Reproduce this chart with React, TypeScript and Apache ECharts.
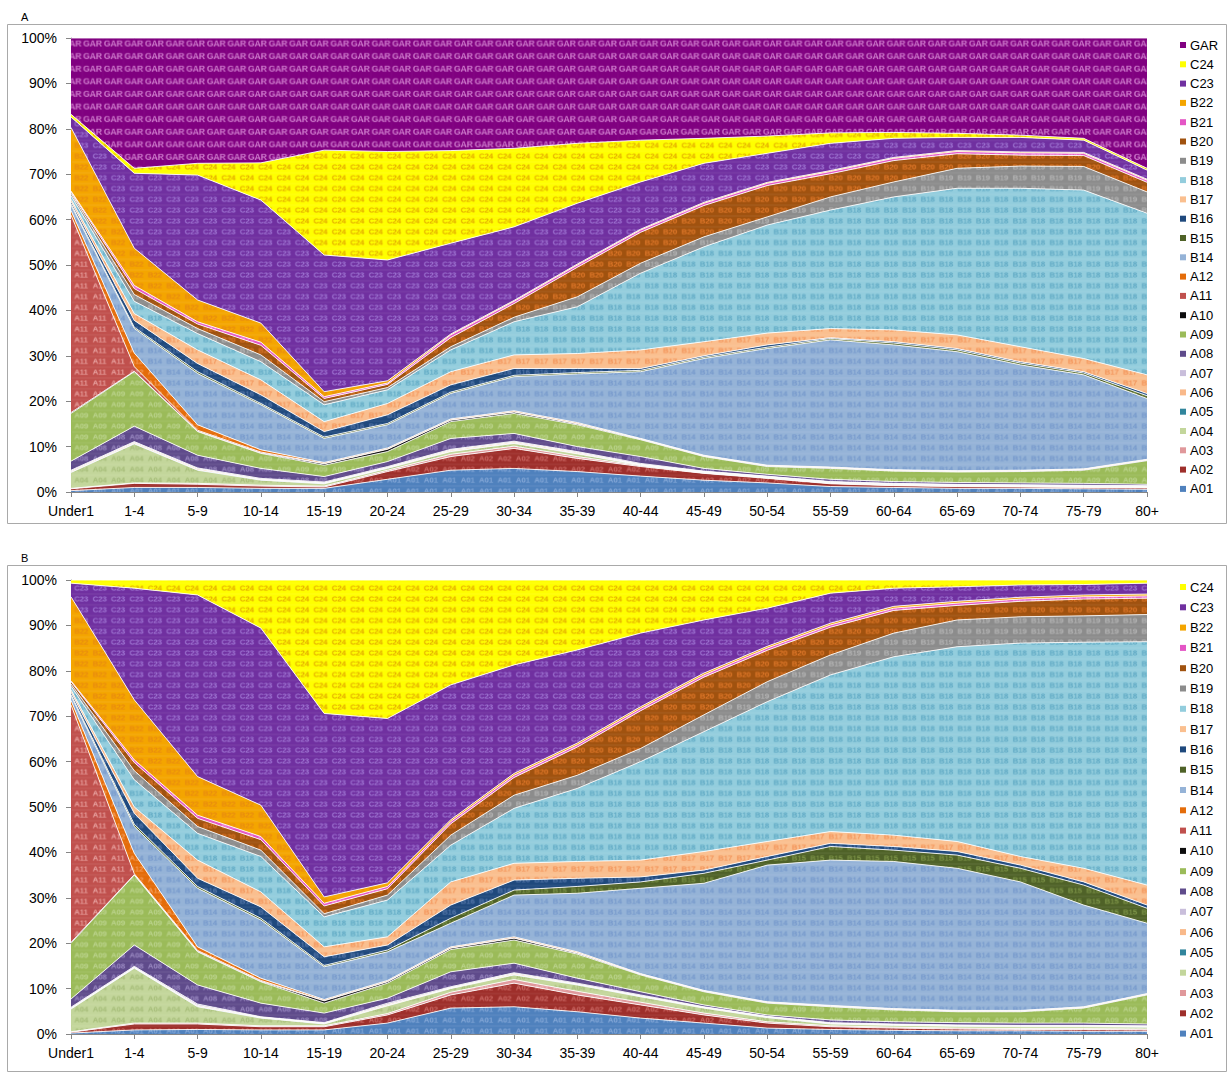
import React, { useEffect, useRef } from "react";
import * as echarts from "echarts";

const FONT = 'Arial, "Liberation Sans", sans-serif';

const categories = ["Under1", "1-4", "5-9", "10-14", "15-19", "20-24", "25-29", "30-34", "35-39", "40-44", "45-49", "50-54", "55-59", "60-64", "65-69", "70-74", "75-79", "80+"];
const yTickStep = 10;

// ---------- Panel A (share, %) ----------
const a_A01 = [0.3, 1.0, 1.0, 0.8, 0.8, 2.8, 4.8, 5.2, 4.5, 3.5, 2.6, 2.0, 1.2, 1.0, 0.8, 0.8, 0.7, 0.6];
const a_A02 = [0.4, 0.9, 0.7, 0.5, 0.3, 1.7, 3.0, 4.4, 2.9, 2.1, 1.5, 1.0, 0.6, 0.4, 0.4, 0.3, 0.3, 0.3];
const a_A03 = [0.1, 0.1, 0.2, 0.2, 0.2, 0.3, 0.5, 0.5, 0.4, 0.2, 0.1, 0.1, 0.1, 0.1, 0.1, 0.1, 0.1, 0.1];
const a_A04 = [3.5, 8.6, 2.9, 1.1, 0.5, 0.4, 0.6, 0.6, 0.6, 0.1, 0.1, 0.1, 0.1, 0.1, 0.1, 0.1, 0.1, 0.1];
const a_A05 = [0.1, 0.1, 0.1, 0.1, 0.1, 0.1, 0.1, 0.1, 0.1, 0.1, 0.1, 0.1, 0.1, 0.1, 0.1, 0.1, 0.1, 0.1];
const a_A06 = [0.2, 0.2, 0.2, 0.1, 0.1, 0.1, 0.2, 0.2, 0.2, 0.1, 0.1, 0.1, 0.1, 0.1, 0.1, 0.1, 0.1, 0.1];
const a_A07 = [0.2, 0.2, 0.2, 0.2, 0.2, 0.2, 0.2, 0.2, 0.2, 0.2, 0.1, 0.1, 0.1, 0.1, 0.1, 0.1, 0.1, 0.1];
const a_A08 = [2.0, 3.4, 2.8, 2.2, 1.2, 1.1, 2.4, 1.7, 1.1, 1.5, 0.6, 0.4, 0.5, 0.4, 0.4, 0.4, 0.4, 0.3];
const a_A09 = [10.5, 12.0, 5.2, 3.3, 2.5, 2.2, 3.7, 4.4, 4.8, 3.7, 2.6, 1.7, 2.4, 2.3, 2.3, 2.5, 2.9, 5.2];
const a_A10 = [0.2, 0.1, 0.1, 0.1, 0.3, 0.5, 0.3, 0.3, 0.2, 0.1, 0.1, 0.1, 0.1, 0.1, 0.1, 0.1, 0.1, 0.1];
const a_A11 = [43.5, 1.0, 0.2, 0.2, 0.1, 0.1, 0.1, 0.1, 0.1, 0.1, 0.1, 0.1, 0.1, 0.1, 0.1, 0.1, 0.1, 0.1];
const a_A12 = [1.0, 3.0, 1.2, 0.5, 0.2, 0.2, 0.2, 0.2, 0.2, 0.1, 0.1, 0.1, 0.1, 0.1, 0.1, 0.1, 0.1, 0.1];
const a_B14 = [1.2, 5.4, 11.3, 9.9, 5.3, 5.1, 5.6, 7.5, 10.7, 14.7, 21.3, 25.7, 28.0, 27.5, 26.2, 23.2, 20.7, 13.4];
const a_B15 = [0.3, 0.3, 0.4, 0.3, 0.3, 0.3, 0.3, 0.3, 0.3, 0.3, 0.3, 0.3, 0.3, 0.4, 0.4, 0.4, 0.4, 0.6];
const a_B16 = [0.5, 1.5, 1.8, 1.9, 1.2, 1.9, 1.6, 1.5, 0.9, 0.4, 0.3, 0.5, 0.2, 0.3, 0.3, 0.3, 0.3, 0.5];
const a_B17 = [0.5, 1.5, 3.0, 3.3, 2.2, 2.5, 2.9, 3.0, 3.3, 4.1, 3.1, 2.6, 2.0, 2.6, 3.0, 3.3, 2.9, 4.1];
const a_B18 = [0.8, 2.7, 3.6, 4.0, 3.7, 3.0, 4.8, 7.3, 10.3, 16.9, 20.9, 23.8, 26.1, 29.3, 32.3, 34.9, 37.1, 35.6];
const a_B19 = [0.5, 1.5, 1.1, 1.5, 0.7, 0.5, 0.7, 1.0, 2.2, 2.2, 2.2, 1.8, 2.9, 3.3, 4.4, 4.9, 5.2, 4.7];
const a_B20 = [0.3, 1.3, 1.0, 2.1, 0.7, 0.7, 2.0, 3.0, 6.5, 6.8, 6.9, 6.9, 5.1, 4.7, 3.2, 2.4, 2.4, 2.1];
const a_B21 = [0.2, 0.7, 0.5, 0.7, 0.4, 0.3, 0.6, 0.5, 0.5, 0.5, 0.5, 0.5, 0.5, 0.5, 0.5, 0.5, 0.5, 0.5];
const a_B22 = [14.0, 8.2, 4.8, 4.2, 1.1, 0.5, 0.2, 0.2, 0.2, 0.2, 0.2, 0.2, 0.2, 0.2, 0.2, 0.2, 0.2, 0.2];
const a_C23 = [2.3, 16.5, 27.5, 27.1, 30.1, 26.6, 20.0, 16.2, 13.4, 10.4, 8.6, 6.4, 6.0, 4.2, 2.9, 3.2, 2.7, 2.0];
const a_C24 = [0.6, 1.1, 2.6, 8.2, 23.1, 23.9, 20.4, 17.3, 13.2, 9.2, 5.5, 3.8, 2.3, 1.3, 0.9, 0.5, 0.4, 0.4];
const a_GAR = [16.8, 28.7, 27.6, 27.5, 24.7, 25.0, 24.8, 24.3, 23.2, 22.5, 22.1, 21.6, 20.9, 20.8, 21.0, 21.4, 22.1, 28.7];

// ---------- Panel B (share, %) ----------
const b_A01 = [0.2, 0.9, 1.0, 0.9, 0.9, 2.4, 5.7, 6.0, 4.9, 3.5, 2.4, 1.3, 1.0, 0.8, 0.7, 0.7, 0.6, 0.6];
const b_A02 = [0.2, 1.3, 1.2, 0.7, 0.7, 1.8, 2.9, 5.2, 3.7, 2.9, 1.8, 1.1, 0.6, 0.5, 0.4, 0.3, 0.4, 0.3];
const b_A03 = [0.1, 0.2, 0.2, 0.2, 0.2, 0.3, 0.6, 0.8, 0.8, 0.6, 0.4, 0.3, 0.2, 0.2, 0.2, 0.2, 0.2, 0.2];
const b_A04 = [5.0, 12.1, 3.6, 1.7, 0.4, 1.7, 0.8, 1.0, 1.4, 1.2, 1.1, 0.9, 0.4, 0.4, 0.4, 0.4, 0.4, 0.4];
const b_A05 = [0.1, 0.1, 0.1, 0.1, 0.1, 0.1, 0.1, 0.1, 0.1, 0.1, 0.1, 0.1, 0.1, 0.1, 0.1, 0.1, 0.1, 0.1];
const b_A06 = [0.1, 0.1, 0.2, 0.1, 0.1, 0.2, 0.1, 0.2, 0.1, 0.1, 0.1, 0.1, 0.1, 0.1, 0.1, 0.1, 0.1, 0.1];
const b_A07 = [0.2, 0.2, 0.3, 0.1, 0.1, 0.3, 0.2, 0.2, 0.2, 0.2, 0.1, 0.1, 0.1, 0.1, 0.1, 0.1, 0.1, 0.1];
const b_A08 = [1.8, 4.7, 4.2, 3.0, 2.1, 1.1, 3.3, 2.1, 1.1, 0.7, 0.4, 0.3, 0.6, 0.5, 0.5, 0.5, 0.5, 0.4];
const b_A09 = [12.3, 15.4, 7.3, 4.7, 2.2, 3.3, 4.9, 5.1, 5.3, 3.7, 2.9, 2.6, 2.9, 2.6, 2.4, 2.5, 3.3, 6.4];
const b_A10 = [0.2, 0.1, 0.1, 0.1, 0.5, 0.3, 0.3, 0.4, 0.2, 0.1, 0.1, 0.1, 0.1, 0.1, 0.1, 0.1, 0.1, 0.1];
const b_A11 = [52.3, 0.2, 0.2, 0.2, 0.1, 0.1, 0.1, 0.1, 0.1, 0.1, 0.1, 0.1, 0.1, 0.1, 0.1, 0.1, 0.1, 0.1];
const b_A12 = [1.0, 4.5, 0.8, 0.5, 0.2, 0.2, 0.2, 0.2, 0.2, 0.1, 0.1, 0.1, 0.1, 0.1, 0.1, 0.1, 0.1, 0.1];
const b_B14 = [1.0, 5.9, 12.9, 12.8, 7.2, 6.3, 5.2, 9.2, 12.9, 18.8, 23.6, 30.1, 32.0, 32.4, 31.3, 28.3, 22.4, 15.5];
const b_B15 = [0.3, 0.5, 0.4, 0.4, 0.3, 0.4, 1.1, 1.1, 1.5, 1.4, 2.2, 1.1, 3.0, 2.5, 2.9, 3.0, 4.4, 3.3];
const b_B16 = [0.5, 2.4, 1.8, 2.5, 1.9, 1.1, 2.9, 2.2, 1.8, 1.1, 0.7, 0.8, 0.7, 0.8, 0.8, 0.7, 0.7, 0.7];
const b_B17 = [0.5, 1.4, 4.0, 3.3, 2.2, 1.8, 5.1, 3.7, 3.7, 3.7, 4.1, 3.3, 2.6, 2.5, 2.2, 1.9, 3.0, 4.4];
const b_B18 = [0.8, 6.0, 5.9, 7.8, 6.6, 8.1, 8.1, 12.1, 16.1, 21.7, 26.4, 30.8, 34.5, 39.3, 42.9, 47.0, 49.8, 53.6];
const b_B19 = [0.5, 2.0, 1.5, 1.4, 0.7, 1.1, 2.2, 2.9, 2.9, 2.9, 3.7, 4.4, 4.4, 5.2, 5.9, 5.8, 5.8, 6.0];
const b_B20 = [0.5, 1.8, 1.8, 2.3, 1.7, 1.4, 2.5, 3.9, 6.2, 8.3, 8.3, 6.9, 6.1, 5.0, 3.2, 3.4, 3.7, 3.6];
const b_B21 = [0.2, 0.6, 0.7, 0.7, 0.6, 0.5, 0.5, 0.5, 0.5, 0.5, 0.5, 0.5, 0.5, 0.5, 0.5, 0.5, 0.5, 0.5];
const b_B22 = [18.5, 13.2, 8.5, 6.9, 1.4, 0.8, 0.4, 0.4, 0.4, 0.4, 0.4, 0.4, 0.4, 0.4, 0.4, 0.4, 0.4, 0.4];
const b_C23 = [3.0, 24.6, 40.0, 39.0, 40.4, 36.2, 29.7, 23.9, 20.5, 16.2, 11.7, 8.4, 6.6, 4.0, 3.2, 2.7, 2.3, 2.4];
const b_C24 = [0.7, 1.8, 3.3, 10.6, 29.4, 30.5, 23.1, 18.7, 15.4, 11.7, 8.8, 6.2, 2.9, 1.8, 1.5, 1.1, 1.0, 0.7];

const namesA = ["A01", "A02", "A03", "A04", "A05", "A06", "A07", "A08", "A09", "A10", "A11", "A12", "B14", "B15", "B16", "B17", "B18", "B19", "B20", "B21", "B22", "C23", "C24", "GAR"];
const namesB = ["A01", "A02", "A03", "A04", "A05", "A06", "A07", "A08", "A09", "A10", "A11", "A12", "B14", "B15", "B16", "B17", "B18", "B19", "B20", "B21", "B22", "C23", "C24"];

const valuesA = [a_A01, a_A02, a_A03, a_A04, a_A05, a_A06, a_A07, a_A08, a_A09, a_A10, a_A11, a_A12, a_B14, a_B15, a_B16, a_B17, a_B18, a_B19, a_B20, a_B21, a_B22, a_C23, a_C24, a_GAR];
const valuesB = [b_A01, b_A02, b_A03, b_A04, b_A05, b_A06, b_A07, b_A08, b_A09, b_A10, b_A11, b_A12, b_B14, b_B15, b_B16, b_B17, b_B18, b_B19, b_B20, b_B21, b_B22, b_C23, b_C24];

const fillColors: Record<string, string> = {
  A01: "#4F81BD", A02: "#9E2F2B", A03: "#E0989B", A04: "#C3D69B", A05: "#31859C", A06: "#F9B98A",
  A07: "#C9BEDB", A08: "#5F4B8B", A09: "#9BBB59", A10: "#0D0D0D", A11: "#C0504D", A12: "#E46C0A",
  B14: "#95B3D7", B15: "#4F6228", B16: "#1F497D", B17: "#FABF8F", B18: "#93CDDD", B19: "#8C8C8C",
  B20: "#A0520F", B21: "#E455C5", B22: "#F4A500", C23: "#7030A0", C24: "#FFFF00", GAR: "#800080",
};
const textColors: Record<string, string> = {
  A01: "#86A9D8", A02: "#CC6A66", A03: "#F2BFC1", A04: "#A6BD79", A05: "#6FB3C8", A06: "#F0935A",
  A07: "#E4DDEE", A08: "#9A89C2", A09: "#BCD48E", A10: "#444444", A11: "#E9A3A1", A12: "#F5A060",
  B14: "#7598CC", B15: "#7D9448", B16: "#5577AA", B17: "#F39358", B18: "#5FA9C4", B19: "#B6B6B6",
  B20: "#E0782A", B21: "#F59AE0", B22: "#E88A10", C23: "#A27AD6", C24: "#E3A800", GAR: "#D17FCF",
};

function makePattern(name: string) {
  const big = name === "GAR";
  const w = big ? 20.6 : 18.4;
  const h = big ? 12.6 : 10.8;
  const fontPx = big ? 8.5 : 7.5;
  const s = 3;
  const c = document.createElement("canvas");
  c.width = Math.round(w * s);
  c.height = Math.round(h * s);
  const ctx = c.getContext("2d");
  if (!ctx) return fillColors[name];
  ctx.fillStyle = fillColors[name];
  ctx.fillRect(0, 0, c.width, c.height);
  ctx.fillStyle = textColors[name];
  ctx.font = `bold ${fontPx * s}px "Liberation Sans", Arial, sans-serif`;
  ctx.textBaseline = "middle";
  ctx.fillText(name, 0.8 * s, c.height / 2);
  return { image: c, repeat: "repeat", imageWidth: w, imageHeight: h };
}

function toShares(rows: number[][]): number[][] {
  const n = rows[0].length;
  const totals = Array.from({ length: n }, (_, j) => rows.reduce((acc, r) => acc + r[j], 0));
  return rows.map((r) => r.map((v, j) => (v / totals[j]) * 100));
}

function buildSeries(names: string[], values: number[][], gi: number, patterns: Record<string, any>) {
  const shares = toShares(values);
  return names.map((n, i) => ({
    name: n,
    type: "line",
    xAxisIndex: gi,
    yAxisIndex: gi,
    stack: "total" + gi,
    data: shares[i],
    symbol: "none",
    showSymbol: false,
    color: fillColors[n],
    itemStyle: { color: fillColors[n] },
    lineStyle: { width: 1, color: "rgba(255,255,255,0.85)" },
    areaStyle: { color: patterns[n], opacity: 1 },
    emphasis: { disabled: true },
    silent: true,
  }));
}

function xAxis(gi: number) {
  return {
    type: "category",
    gridIndex: gi,
    data: categories,
    boundaryGap: false,
    axisLine: { lineStyle: { color: "#868686", width: 1 } },
    axisTick: { show: true, length: 5, lineStyle: { color: "#868686" } },
    axisLabel: { color: "#000", fontSize: 14, fontFamily: FONT, margin: 12, interval: 0 },
    splitLine: { show: false },
  };
}
function yAxis(gi: number) {
  return {
    type: "value",
    gridIndex: gi,
    min: 0,
    max: 100,
    interval: yTickStep,
    axisLine: { show: true, lineStyle: { color: "#868686" } },
    axisTick: { show: true, length: 5, lineStyle: { color: "#868686" } },
    axisLabel: { formatter: "{value}%", color: "#000", fontSize: 14, fontFamily: FONT, margin: 14 },
    splitLine: { show: false },
  };
}

function legend(names: string[], top: number, gap: number) {
  return {
    orient: "vertical",
    left: 1175,
    top,
    itemGap: gap,
    itemWidth: 6,
    itemHeight: 6,
    icon: "rect",
    selectedMode: false,
    data: names.slice().reverse(),
    itemStyle: { borderWidth: 0 },
    lineStyle: { width: 0 },
    textStyle: { color: "#000", fontSize: 13, fontFamily: FONT, lineHeight: 14, padding: [0, 0, 0, -1] },
  };
}

export default function App() {
  const ref = useRef<HTMLDivElement>(null);
  useEffect(() => {
    document.body.style.margin = "0";
    if (!ref.current) return;
    const chart = echarts.init(ref.current, undefined, { renderer: "svg" });
    const patterns: Record<string, any> = {};
    namesA.forEach((n) => (patterns[n] = makePattern(n)));
    const option = {
      animation: false,
      backgroundColor: "#ffffff",
      grid: [
        { left: 71, top: 38, width: 1076, height: 454 },
        { left: 71, top: 580, width: 1076, height: 454 },
      ],
      xAxis: [xAxis(0), xAxis(1)],
      yAxis: [yAxis(0), yAxis(1)],
      legend: [legend(namesA, 33, 5.3), legend(namesB, 575, 6.3)],
      graphic: [
        { type: "rect", silent: true, shape: { x: 7.5, y: 24.5, width: 1219, height: 499 }, style: { fill: "none", stroke: "#A9A9A9", lineWidth: 1 } },
        { type: "rect", silent: true, shape: { x: 7.5, y: 565.5, width: 1219, height: 506 }, style: { fill: "none", stroke: "#A9A9A9", lineWidth: 1 } },
        { type: "text", left: 21, top: 11, style: { text: "A", fontSize: 11, fontFamily: FONT, fill: "#000" } },
        { type: "text", left: 21, top: 552, style: { text: "B", fontSize: 11, fontFamily: FONT, fill: "#000" } },
      ],
      series: [
        ...buildSeries(namesA, valuesA, 0, patterns),
        ...buildSeries(namesB, valuesB, 1, patterns),
      ],
    };
    chart.setOption(option as any);
    return () => chart.dispose();
  }, []);
  return <div ref={ref} style={{ width: 1228, height: 1073 }} />;
}
